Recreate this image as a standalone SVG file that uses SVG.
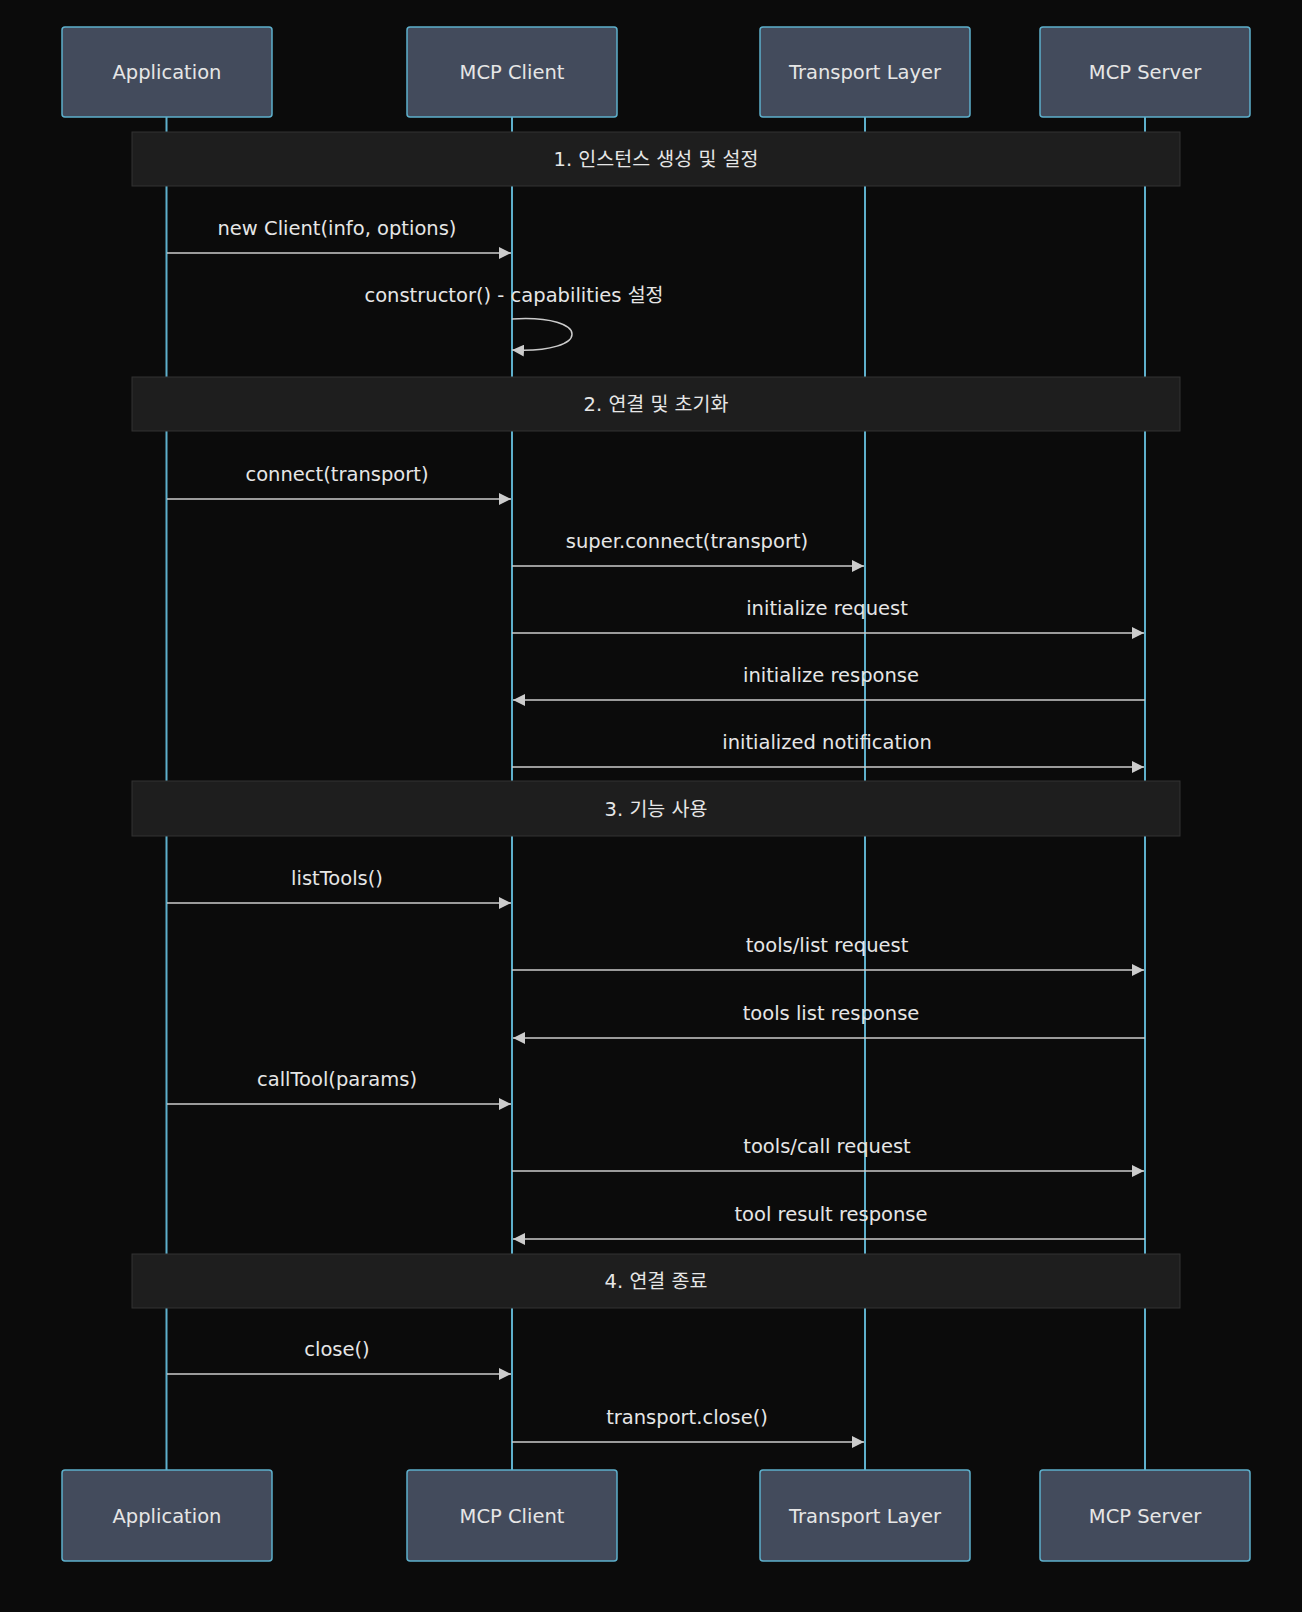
<svg xmlns="http://www.w3.org/2000/svg" width="1302" height="1612" viewBox="0 0 1302 1612">
<style>
.bg{fill:#0b0b0b}
.actor rect{fill:#434b5c;stroke:#5eb0cc;stroke-width:1.5}
.actor text,.lbl,.sec text{font-family:"DejaVu Sans","Noto Sans CJK KR",sans-serif;font-size:19.5px;fill:#e6e6e6;text-anchor:middle}
.life{stroke:#5eb0cc;stroke-width:2}
.sec rect{fill:#1e1e1e;stroke:#333;stroke-width:1}
.msg{stroke:#cccccc;stroke-width:1.5;fill:none}
</style>
<defs><marker id="ah" viewBox="0 0 12 12" refX="12" refY="6" markerWidth="12" markerHeight="12" orient="auto" markerUnits="userSpaceOnUse"><path d="M0,0L12,6L0,12z" fill="#cccccc"/></marker></defs>
<rect class="bg" width="1302" height="1612"/>
<g id="lifelines">
<line class="life" x1="166.5" y1="117" x2="166.5" y2="1470"/>
<line class="life" x1="512" y1="117" x2="512" y2="1470"/>
<line class="life" x1="865" y1="117" x2="865" y2="1470"/>
<line class="life" x1="1145" y1="117" x2="1145" y2="1470"/>
</g>
<g id="sections">
<g class="sec" id="s1"><rect x="132" y="132" width="1048" height="54"/><text x="656" y="166">1. 인스턴스 생성 및 설정</text></g>
<g class="sec" id="s2"><rect x="132" y="377" width="1048" height="54"/><text x="656" y="411">2. 연결 및 초기화</text></g>
<g class="sec" id="s3"><rect x="132" y="781" width="1048" height="55"/><text x="656" y="816">3. 기능 사용</text></g>
<g class="sec" id="s4"><rect x="132" y="1254" width="1048" height="54"/><text x="656" y="1288">4. 연결 종료</text></g>
</g>
<g id="connectors">
<line class="msg" x1="167" y1="253" x2="511" y2="253" marker-end="url(#ah)"/>
<text class="lbl" x="337" y="235">new Client(info, options)</text>
<path class="msg" d="M512,319 C592,314 592,354 512,350" marker-end="url(#ah)"/>
<text class="lbl" x="514" y="302">constructor() - capabilities 설정</text>
<line class="msg" x1="167" y1="499" x2="511" y2="499" marker-end="url(#ah)"/>
<text class="lbl" x="337" y="481">connect(transport)</text>
<line class="msg" x1="512" y1="566" x2="864" y2="566" marker-end="url(#ah)"/>
<text class="lbl" x="687" y="548">super.connect(transport)</text>
<line class="msg" x1="512" y1="633" x2="1144" y2="633" marker-end="url(#ah)"/>
<text class="lbl" x="827" y="615">initialize request</text>
<line class="msg" x1="1145" y1="700" x2="513" y2="700" marker-end="url(#ah)"/>
<text class="lbl" x="831" y="682">initialize response</text>
<line class="msg" x1="512" y1="767" x2="1144" y2="767" marker-end="url(#ah)"/>
<text class="lbl" x="827" y="749">initialized notification</text>
<line class="msg" x1="167" y1="903" x2="511" y2="903" marker-end="url(#ah)"/>
<text class="lbl" x="337" y="885">listTools()</text>
<line class="msg" x1="512" y1="970" x2="1144" y2="970" marker-end="url(#ah)"/>
<text class="lbl" x="827" y="952">tools/list request</text>
<line class="msg" x1="1145" y1="1038" x2="513" y2="1038" marker-end="url(#ah)"/>
<text class="lbl" x="831" y="1020">tools list response</text>
<line class="msg" x1="167" y1="1104" x2="511" y2="1104" marker-end="url(#ah)"/>
<text class="lbl" x="337" y="1086">callTool(params)</text>
<line class="msg" x1="512" y1="1171" x2="1144" y2="1171" marker-end="url(#ah)"/>
<text class="lbl" x="827" y="1153">tools/call request</text>
<line class="msg" x1="1145" y1="1239" x2="513" y2="1239" marker-end="url(#ah)"/>
<text class="lbl" x="831" y="1221">tool result response</text>
<line class="msg" x1="167" y1="1374" x2="511" y2="1374" marker-end="url(#ah)"/>
<text class="lbl" x="337" y="1356">close()</text>
<line class="msg" x1="512" y1="1442" x2="864" y2="1442" marker-end="url(#ah)"/>
<text class="lbl" x="687" y="1424">transport.close()</text>
</g>
<g id="app-top" class="actor"><rect x="62" y="27" width="210" height="90" rx="3"/><text x="167" y="79">Application</text></g>
<g id="client-top" class="actor"><rect x="407" y="27" width="210" height="90" rx="3"/><text x="512" y="79">MCP Client</text></g>
<g id="transport-top" class="actor"><rect x="760" y="27" width="210" height="90" rx="3"/><text x="865" y="79">Transport Layer</text></g>
<g id="server-top" class="actor"><rect x="1040" y="27" width="210" height="90" rx="3"/><text x="1145" y="79">MCP Server</text></g>
<g id="app-bot" class="actor"><rect x="62" y="1470" width="210" height="91" rx="3"/><text x="167" y="1523">Application</text></g>
<g id="client-bot" class="actor"><rect x="407" y="1470" width="210" height="91" rx="3"/><text x="512" y="1523">MCP Client</text></g>
<g id="transport-bot" class="actor"><rect x="760" y="1470" width="210" height="91" rx="3"/><text x="865" y="1523">Transport Layer</text></g>
<g id="server-bot" class="actor"><rect x="1040" y="1470" width="210" height="91" rx="3"/><text x="1145" y="1523">MCP Server</text></g>
</svg>
